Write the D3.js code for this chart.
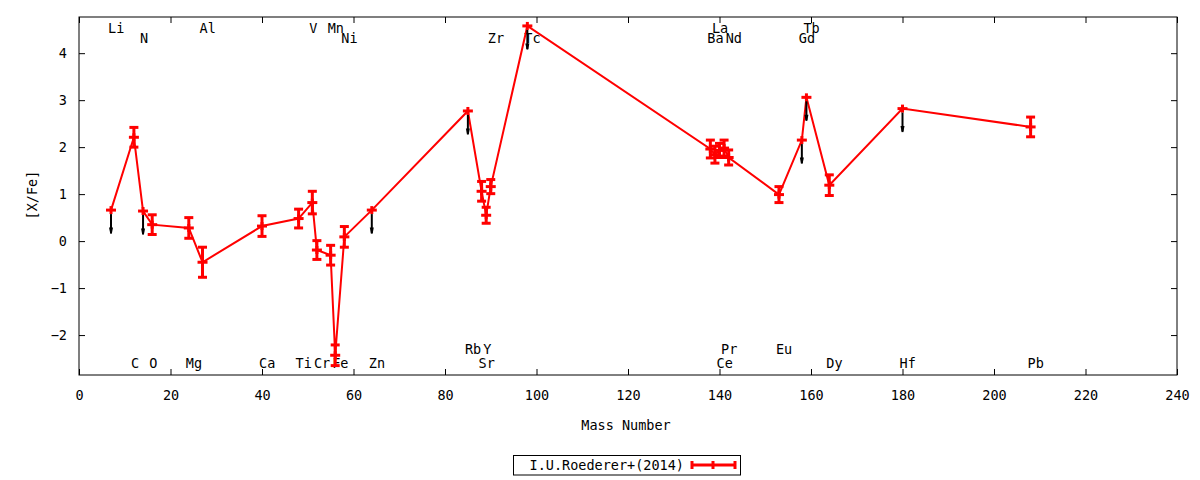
<!DOCTYPE html>
<html>
<head>
<meta charset="utf-8">
<script src="https://cdn.jsdelivr.net/npm/d3@7"></script>
<style>
  body { margin: 0; background: #fff; }
  text { font-family: "DejaVu Sans Mono", monospace; font-size: 13.5px; fill: #000; }
</style>
</head>
<body>
<script>
// element, mass number, [X/Fe], error, upper limit flag, label row (in [X/Fe] units)
const elements = ["Li","C","N","O","Mg","Al","Ca","Ti","V","Cr","Mn","Fe","Ni","Zn","Rb","Sr","Y","Zr","Tc","Ba","La","Ce","Pr","Nd","Eu","Gd","Tb","Dy","Hf","Pb"];
const massNumber = [7,12,14,16,24,27,40,48,51,52,55,56,58,64,85,88,89,90,98,138,139,140,141,142,153,158,159,164,180,208];
const xfe = [0.66,2.21,0.64,0.35,0.28,-0.45,0.32,0.48,0.82,-0.19,-0.30,-2.43,0.09,0.66,2.77,1.06,0.55,1.16,4.58,1.96,1.84,1.93,1.98,1.78,0.99,2.15,3.06,1.19,2.82,2.43];
const xfeErr = [0,0.21,0,0.21,0.22,0.32,0.22,0.2,0.24,0.2,0.21,0.22,0.22,0,0,0.21,0.17,0.15,0,0.19,0.18,0.15,0.17,0.16,0.17,0,0,0.22,0,0.21];
const upperLimit = [1,0,1,0,0,0,0,0,0,0,0,0,0,1,1,0,0,0,1,0,0,0,0,0,0,1,1,0,1,0];
const labelRow = [4.54,-2.6,4.32,-2.6,-2.6,4.54,-2.6,-2.6,4.54,-2.6,4.54,-2.6,4.32,-2.6,-2.3,-2.6,-2.3,4.32,4.32,4.32,4.54,-2.6,-2.3,4.32,-2.3,4.32,4.54,-2.6,-2.6,-2.6];

const xTicks = [0,20,40,60,80,100,120,140,160,180,200,220,240];
const yTicks = [-2,-1,0,1,2,3,4];
const legendLabel = "I.U.Roederer+(2014)";

const data = elements.map((el, i) => ({
    el: el, m: massNumber[i], v: xfe[i], e: xfeErr[i], ul: upperLimit[i] === 1, row: labelRow[i]
}));

const width = 1200, height = 480;
const plotLeft = 79, plotRight = 1177, plotTop = 17, plotBottom = 375;

const svg = d3.select("body").append("svg")
    .attr("width", width)
    .attr("height", height);

const x = d3.scaleLinear().domain([0, 240]).range([plotLeft, plotRight]);
const y = d3.scaleLinear().domain([-2.85, 4.77]).range([plotBottom, plotTop]);

// axes, ticks pointing inward on all four sides
svg.append("g")
    .attr("transform", `translate(0,${plotBottom})`)
    .call(d3.axisBottom(x).tickValues(xTicks).tickSize(-6).tickSizeOuter(0).tickPadding(15));
svg.append("g")
    .attr("transform", `translate(0,${plotTop})`)
    .call(d3.axisTop(x).tickValues(xTicks).tickSize(-6).tickSizeOuter(0).tickFormat(""));
svg.append("g")
    .attr("transform", `translate(${plotLeft},0)`)
    .call(d3.axisLeft(y).tickValues(yTicks).tickSize(-6).tickSizeOuter(0).tickPadding(12));
svg.append("g")
    .attr("transform", `translate(${plotRight},0)`)
    .call(d3.axisRight(y).tickValues(yTicks).tickSize(-6).tickSizeOuter(0).tickFormat(""));

svg.selectAll(".tick text").style("font-family", "DejaVu Sans Mono").style("font-size", "13.5px");
svg.selectAll(".domain").remove();

svg.append("rect")
    .attr("x", plotLeft).attr("y", plotTop)
    .attr("width", plotRight - plotLeft).attr("height", plotBottom - plotTop)
    .attr("fill", "none").attr("stroke", "#000").attr("stroke-width", 1);

// axis titles
svg.append("text")
    .attr("x", 626).attr("y", 425)
    .attr("text-anchor", "middle").attr("dominant-baseline", "central")
    .text("Mass Number");
svg.append("text")
    .attr("transform", "translate(32,195) rotate(-90)")
    .attr("text-anchor", "middle").attr("dominant-baseline", "central")
    .text("[X/Fe]");

// element labels (drawn under the data)
svg.append("g").selectAll("text")
    .data(data)
    .enter().append("text")
    .attr("x", d => x(d.m) - 3)
    .attr("y", d => y(d.row))
    .attr("dominant-baseline", "central")
    .text(d => d.el);

const red = "#ff0000";

// connecting line
svg.append("path")
    .datum(data)
    .attr("fill", "none")
    .attr("stroke", red)
    .attr("stroke-width", 2)
    .attr("d", d3.line().x(d => x(d.m)).y(d => y(d.v)));

// error bars
const bars = svg.append("g").attr("stroke", red).attr("stroke-width", 3);
const measured = data.filter(d => !d.ul);
bars.selectAll("line.bar")
    .data(measured)
    .enter().append("line")
    .attr("class", "bar")
    .attr("x1", d => x(d.m)).attr("x2", d => x(d.m))
    .attr("y1", d => y(d.v - d.e)).attr("y2", d => y(d.v + d.e));
bars.selectAll("line.capTop")
    .data(measured)
    .enter().append("line")
    .attr("class", "capTop")
    .attr("x1", d => x(d.m) - 4.5).attr("x2", d => x(d.m) + 4.5)
    .attr("y1", d => y(d.v + d.e)).attr("y2", d => y(d.v + d.e));
bars.selectAll("line.capBot")
    .data(measured)
    .enter().append("line")
    .attr("class", "capBot")
    .attr("x1", d => x(d.m) - 4.5).attr("x2", d => x(d.m) + 4.5)
    .attr("y1", d => y(d.v - d.e)).attr("y2", d => y(d.v - d.e));

// point markers (+)
const pts = svg.append("g").attr("stroke", red).attr("stroke-width", 3);
pts.selectAll("line.h")
    .data(data)
    .enter().append("line")
    .attr("class", "h")
    .attr("x1", d => x(d.m) - 5).attr("x2", d => x(d.m) + 5)
    .attr("y1", d => y(d.v)).attr("y2", d => y(d.v));
pts.selectAll("line.v")
    .data(data)
    .enter().append("line")
    .attr("class", "v")
    .attr("x1", d => x(d.m)).attr("x2", d => x(d.m))
    .attr("y1", d => y(d.v) - 4).attr("y2", d => y(d.v) + 4);

// upper limit arrows
const limits = data.filter(d => d.ul);
const arrows = svg.append("g");
arrows.selectAll("line")
    .data(limits)
    .enter().append("line")
    .attr("x1", d => x(d.m)).attr("x2", d => x(d.m))
    .attr("y1", d => y(d.v) + 4).attr("y2", d => y(d.v - 0.5))
    .attr("stroke", "#000").attr("stroke-width", 2);
arrows.selectAll("path")
    .data(limits)
    .enter().append("path")
    .attr("d", d => {
        const px = x(d.m), py = y(d.v - 0.5);
        return `M${px - 2},${py - 6}L${px + 2},${py - 6}L${px + 1},${py - 1}L${px},${py}L${px - 1},${py - 1}Z`;
    })
    .attr("fill", "#000");

// legend
const legend = svg.append("g");
legend.append("rect")
    .attr("x", 513.5).attr("y", 455.5)
    .attr("width", 227).attr("height", 19.5)
    .attr("fill", "none").attr("stroke", "#000").attr("stroke-width", 1);
legend.append("text")
    .attr("x", 684).attr("y", 465)
    .attr("text-anchor", "end").attr("dominant-baseline", "central")
    .text(legendLabel);
const ly = 465;
legend.append("line")
    .attr("x1", 692).attr("x2", 735).attr("y1", ly).attr("y2", ly)
    .attr("stroke", red).attr("stroke-width", 3);
[692, 735].forEach(px => {
    legend.append("line")
        .attr("x1", px).attr("x2", px).attr("y1", ly - 4).attr("y2", ly + 4)
        .attr("stroke", red).attr("stroke-width", 3);
});
legend.append("line")
    .attr("x1", 713).attr("x2", 713).attr("y1", ly - 4).attr("y2", ly + 4)
    .attr("stroke", red).attr("stroke-width", 3);
</script>
</body>
</html>
